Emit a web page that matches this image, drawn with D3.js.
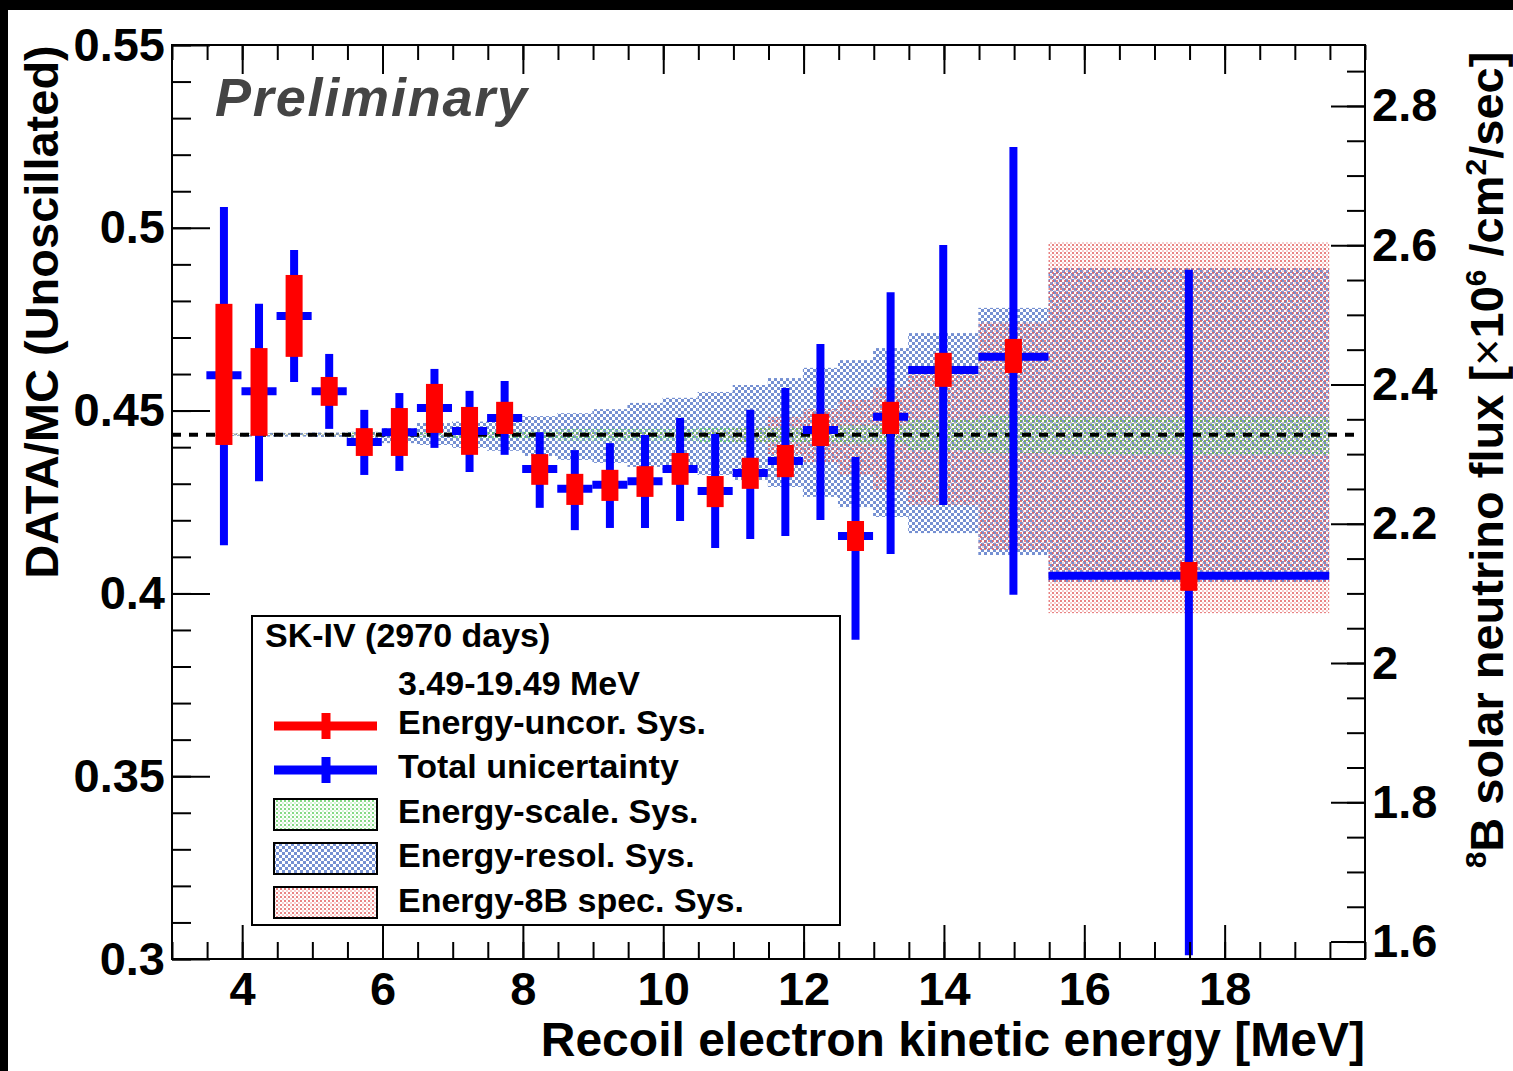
<!DOCTYPE html>
<html>
<head>
<meta charset="utf-8">
<script src="https://cdn.jsdelivr.net/npm/d3@7"></script>
<style>
  html, body { margin: 0; padding: 0; background: #000; }
  svg { display: block; font-family: "Liberation Sans", Arial, sans-serif; font-weight: bold; }
</style>
</head>
<body>
<div id="chart"></div>
<script>
// bins (MeV)
const binEdges = [3.49, 3.99, 4.49, 4.99, 5.49, 5.99, 6.49, 6.99, 7.49, 7.99, 8.49, 8.99,
                  9.49, 9.99, 10.49, 10.99, 11.49, 11.99, 12.49, 12.99, 13.49, 14.49, 15.49, 19.49];

// DATA/MC
const ratio     = [0.4597, 0.4553, 0.4759, 0.4553, 0.4414, 0.4441, 0.4507, 0.4444, 0.4480, 0.4340, 0.4286, 0.4297,
                   0.4307, 0.4340, 0.4280, 0.4329, 0.4362, 0.4447, 0.4157, 0.4483, 0.4611, 0.4647, 0.4048];
// energy-uncorrelated sys. (red)
const uncorLow  = [0.4406, 0.4431, 0.4647, 0.4513, 0.4376, 0.4376, 0.4439, 0.4379, 0.4436, 0.4297, 0.4242, 0.4253,
                   0.4264, 0.4297, 0.4236, 0.4286, 0.4318, 0.4403, 0.4116, 0.4436, 0.4565, 0.4603, 0.4007];
const uncorHigh = [0.4792, 0.4671, 0.4871, 0.4592, 0.4452, 0.4507, 0.4573, 0.4510, 0.4524, 0.4381, 0.4327, 0.4338,
                   0.4348, 0.4384, 0.4321, 0.4371, 0.4406, 0.4491, 0.4198, 0.4524, 0.4658, 0.4696, 0.4086];
// total uncertainty (blue)
const totalLow  = [0.4132, 0.4307, 0.4578, 0.4450, 0.4324, 0.4335, 0.4398, 0.4332, 0.4379, 0.4234, 0.4173, 0.4179,
                   0.4179, 0.4198, 0.4124, 0.4149, 0.4157, 0.4201, 0.3873, 0.4108, 0.4242, 0.3996, 0.3010];
const totalHigh = [0.5057, 0.4792, 0.4939, 0.4655, 0.4502, 0.4548, 0.4614, 0.4554, 0.4581, 0.4441, 0.4392, 0.4411,
                   0.4433, 0.4480, 0.4436, 0.4502, 0.4562, 0.4682, 0.4373, 0.4824, 0.4953, 0.5221, 0.4885];

// systematic bands around the expectation
const scaleLow  = [0.4431, 0.4431, 0.4431, 0.4431, 0.4428, 0.4428, 0.4428, 0.4424, 0.4424, 0.4424, 0.4418, 0.4418,
                   0.4418, 0.4418, 0.4414, 0.4414, 0.4414, 0.4414, 0.4408, 0.4408, 0.4392, 0.4384, 0.4379];
const scaleHigh = [0.4437, 0.4437, 0.4437, 0.4437, 0.4440, 0.4440, 0.4440, 0.4444, 0.4444, 0.4444, 0.4450, 0.4450,
                   0.4450, 0.4450, 0.4454, 0.4454, 0.4454, 0.4454, 0.4460, 0.4460, 0.4474, 0.4488, 0.4483];
const resolLow  = [0.4431, 0.4429, 0.4429, 0.4428, 0.4424, 0.4411, 0.4406, 0.4398, 0.4390, 0.4376, 0.4365, 0.4357,
                   0.4346, 0.4338, 0.4324, 0.4310, 0.4291, 0.4264, 0.4236, 0.4209, 0.4165, 0.4105, 0.4031];
const resolHigh = [0.4437, 0.4439, 0.4439, 0.4440, 0.4442, 0.4452, 0.4466, 0.4470, 0.4480, 0.4485, 0.4493, 0.4504,
                   0.4521, 0.4535, 0.4551, 0.4570, 0.4589, 0.4617, 0.4638, 0.4671, 0.4712, 0.4781, 0.4890];
const specLow   = [0.4432, 0.4432, 0.4432, 0.4432, 0.4432, 0.4432, 0.4432, 0.4432, 0.4432, 0.4432, 0.4430, 0.4430,
                   0.4430, 0.4430, 0.4425, 0.4414, 0.4379, 0.4359, 0.4324, 0.4283, 0.4242, 0.4119, 0.3946];
const specHigh  = [0.4437, 0.4437, 0.4437, 0.4437, 0.4437, 0.4437, 0.4437, 0.4437, 0.4437, 0.4437, 0.4440, 0.4440,
                   0.4440, 0.4440, 0.4445, 0.4452, 0.4483, 0.4504, 0.4529, 0.4565, 0.4611, 0.4742, 0.4961];

const expected = 0.4434;

const xTicks = [4, 6, 8, 10, 12, 14, 16, 18];
const yTicks = [0.3, 0.35, 0.4, 0.45, 0.5, 0.55];
const rightTicks = [1.6, 1.8, 2, 2.2, 2.4, 2.6, 2.8];
const fluxPerRatio = 5.25;

const width = 1513;
const height = 1071;
const marginTop = 45;
const marginRight = 148;
const marginBottom = 112;
const marginLeft = 172;

const x = d3.scaleLinear().domain([3, 20]).range([marginLeft, width - marginRight]);
const y = d3.scaleLinear().domain([0.3, 0.55]).range([height - marginBottom, marginTop]);
const yR = d3.scaleLinear().domain([0.3 * fluxPerRatio, 0.55 * fluxPerRatio]).range([height - marginBottom, marginTop]);

const fmt = d => String(+(+d).toFixed(2));

const svg = d3.select("#chart").append("svg")
  .attr("width", width)
  .attr("height", height);

// black frame of the picture
svg.append("rect").attr("width", width).attr("height", height).attr("fill", "#000");
svg.append("rect").attr("x", 8).attr("y", 10).attr("width", width - 8).attr("height", height - 10).attr("fill", "#fff");

// fill patterns
const defs = svg.append("defs");
const blueP = defs.append("pattern").attr("id", "pBlue").attr("patternUnits", "userSpaceOnUse")
  .attr("width", 6).attr("height", 6);
blueP.append("rect").attr("x", 0).attr("y", 0).attr("width", 3).attr("height", 3).attr("fill", "#7590d2");
blueP.append("rect").attr("x", 3).attr("y", 3).attr("width", 3).attr("height", 3).attr("fill", "#7590d2");

const redP = defs.append("pattern").attr("id", "pRed").attr("patternUnits", "userSpaceOnUse")
  .attr("width", 4).attr("height", 4);
redP.append("circle").attr("cx", 1).attr("cy", 1).attr("r", 1).attr("fill", "#e25a5a");
redP.append("circle").attr("cx", 3).attr("cy", 3).attr("r", 0.8).attr("fill", "#ec8c8c");

const greenP = defs.append("pattern").attr("id", "pGreen").attr("patternUnits", "userSpaceOnUse")
  .attr("width", 4).attr("height", 4);
greenP.append("circle").attr("cx", 1).attr("cy", 1).attr("r", 0.9).attr("fill", "#4cc84c");
greenP.append("circle").attr("cx", 3).attr("cy", 3).attr("r", 0.7).attr("fill", "#8edf8e");

const bins = d3.range(ratio.length).map(i => ({
  lo: binEdges[i], hi: binEdges[i + 1], mid: (binEdges[i] + binEdges[i + 1]) / 2,
  v: ratio[i], uLo: uncorLow[i], uHi: uncorHigh[i], tLo: totalLow[i], tHi: totalHigh[i],
  sLo: scaleLow[i], sHi: scaleHigh[i], rLo: resolLow[i], rHi: resolHigh[i], bLo: specLow[i], bHi: specHigh[i]
}));

// bands
const band = (cls, lo, hi, fill) => {
  svg.append("g").selectAll("rect")
    .data(bins)
    .join("rect")
    .attr("class", cls)
    .attr("x", d => x(d.lo))
    .attr("width", d => x(d.hi) - x(d.lo))
    .attr("y", d => y(d[hi]))
    .attr("height", d => y(d[lo]) - y(d[hi]))
    .attr("fill", fill);
};
band("resol", "rLo", "rHi", "url(#pBlue)");
band("spec", "bLo", "bHi", "url(#pRed)");
band("scale", "sLo", "sHi", "url(#pGreen)");

// expectation
svg.append("line")
  .attr("x1", x(3)).attr("x2", x(19.9))
  .attr("y1", y(expected)).attr("y2", y(expected))
  .attr("stroke", "#000").attr("stroke-width", 4)
  .attr("stroke-dasharray", "9 8");

// total uncertainty
const pts = svg.append("g");
pts.selectAll(".tv").data(bins).join("line")
  .attr("class", "tv")
  .attr("x1", d => x(d.mid)).attr("x2", d => x(d.mid))
  .attr("y1", d => y(d.tLo)).attr("y2", d => y(d.tHi))
  .attr("stroke", "#0000ff").attr("stroke-width", 8);
pts.selectAll(".th").data(bins).join("line")
  .attr("class", "th")
  .attr("x1", d => x(d.lo)).attr("x2", d => x(d.hi))
  .attr("y1", d => y(d.v)).attr("y2", d => y(d.v))
  .attr("stroke", "#0000ff").attr("stroke-width", 8);
// energy-uncorrelated
pts.selectAll(".ur").data(bins).join("rect")
  .attr("class", "ur")
  .attr("x", d => x(d.mid) - 8.5).attr("width", 17)
  .attr("y", d => y(d.uHi)).attr("height", d => y(d.uLo) - y(d.uHi))
  .attr("fill", "#ff0000");

// axes
const plotBottom = height - marginBottom;
const plotRight = width - marginRight;
const xMinor = d3.range(3, 20.001, 0.5);
const yMinor = d3.range(0.3, 0.5501, 0.01);
const rMinor = d3.range(1.6, 2.851, 0.05);

const axisStyle = g => {
  g.select(".domain").remove();
  g.selectAll("line").attr("stroke", "#000").attr("stroke-width", 2);
  g.selectAll("text").attr("fill", "#000").style("font-size", "47px").style("font-weight", "bold")
    .style("font-family", "'Liberation Sans', Arial, sans-serif");
};

svg.append("g").attr("transform", `translate(0,${plotBottom})`)
  .call(d3.axisBottom(x).tickValues(xMinor).tickSize(-17).tickFormat("")).call(axisStyle);
svg.append("g").attr("transform", `translate(0,${plotBottom})`)
  .call(d3.axisBottom(x).tickValues(xTicks).tickSize(-34).tickPadding(13).tickFormat(fmt)).call(axisStyle);

svg.append("g").attr("transform", `translate(0,${marginTop})`)
  .call(d3.axisTop(x).tickValues(xMinor).tickSize(-15).tickFormat("")).call(axisStyle);
svg.append("g").attr("transform", `translate(0,${marginTop})`)
  .call(d3.axisTop(x).tickValues(xTicks).tickSize(-29).tickFormat("")).call(axisStyle);

svg.append("g").attr("transform", `translate(${marginLeft},0)`)
  .call(d3.axisLeft(y).tickValues(yMinor).tickSize(-19).tickFormat("")).call(axisStyle);
svg.append("g").attr("transform", `translate(${marginLeft},0)`)
  .call(d3.axisLeft(y).tickValues(yTicks).tickSize(-38).tickPadding(7).tickFormat(fmt)).call(axisStyle);

svg.append("g").attr("transform", `translate(${plotRight},0)`)
  .call(d3.axisRight(yR).tickValues(rMinor).tickSize(-18).tickFormat("")).call(axisStyle);
svg.append("g").attr("transform", `translate(${plotRight},0)`)
  .call(d3.axisRight(yR).tickValues(rightTicks).tickSize(-34).tickPadding(7).tickFormat(fmt)).call(axisStyle);

// frame
svg.append("rect")
  .attr("x", marginLeft).attr("y", marginTop)
  .attr("width", plotRight - marginLeft).attr("height", plotBottom - marginTop)
  .attr("fill", "none").attr("stroke", "#000").attr("stroke-width", 2);

// titles
svg.append("text")
  .attr("x", plotRight).attr("y", 1056)
  .attr("text-anchor", "end")
  .style("font-size", "48px")
  .text("Recoil electron kinetic energy [MeV]");

svg.append("text")
  .attr("transform", "translate(58,312) rotate(-90)")
  .attr("text-anchor", "middle")
  .style("font-size", "47px")
  .text("DATA/MC (Unoscillated)");

const rt = svg.append("text")
  .attr("transform", "translate(1503,460) rotate(-90)")
  .attr("text-anchor", "middle")
  .style("font-size", "47px");
rt.append("tspan").style("font-size", "30px").attr("dy", -17).text("8");
rt.append("tspan").attr("dy", 17).text("B solar neutrino flux [");
rt.append("tspan").style("font-weight", "normal").text("\u00d7");
rt.append("tspan").text("10");
rt.append("tspan").style("font-size", "30px").attr("dy", -17).text("6");
rt.append("tspan").attr("dy", 17).text(" /cm");
rt.append("tspan").style("font-size", "30px").attr("dy", -17).text("2");
rt.append("tspan").attr("dy", 17).text("/sec]");

svg.append("text")
  .attr("x", 215).attr("y", 116)
  .style("font-size", "54px")
  .style("font-style", "italic")
  .style("letter-spacing", "1.8px")
  .attr("fill", "#444")
  .text("Preliminary");

// legend
const legend = svg.append("g").attr("id", "legend");
legend.append("rect")
  .attr("x", 252).attr("y", 616).attr("width", 588).attr("height", 309)
  .attr("fill", "#fff").attr("stroke", "#000").attr("stroke-width", 2);

const legendText = [
  {t: "SK-IV (2970 days)", x: 265, y: 647},
  {t: "3.49-19.49 MeV", x: 398, y: 695},
  {t: "Energy-uncor. Sys.", x: 398, y: 734},
  {t: "Total unicertainty", x: 398, y: 778},
  {t: "Energy-scale. Sys.", x: 398, y: 823},
  {t: "Energy-resol. Sys.", x: 398, y: 867},
  {t: "Energy-8B spec. Sys.", x: 398, y: 912}
];
legend.selectAll(".lt").data(legendText).join("text")
  .attr("class", "lt")
  .attr("x", d => d.x).attr("y", d => d.y)
  .style("font-size", "34px")
  .text(d => d.t);

const legendMarks = [
  {c: "#ff0000", y: 726},
  {c: "#0000ff", y: 770}
];
legendMarks.forEach(m => {
  legend.append("line").attr("x1", 274).attr("x2", 377).attr("y1", m.y).attr("y2", m.y)
    .attr("stroke", m.c).attr("stroke-width", 9);
  legend.append("line").attr("x1", 326).attr("x2", 326).attr("y1", m.y - 13).attr("y2", m.y + 13)
    .attr("stroke", m.c).attr("stroke-width", 9);
});
const legendBoxes = [
  {f: "url(#pGreen)", y: 799},
  {f: "url(#pBlue)", y: 843},
  {f: "url(#pRed)", y: 887}
];
legend.selectAll(".lb").data(legendBoxes).join("rect")
  .attr("class", "lb")
  .attr("x", 274).attr("y", d => d.y).attr("width", 103).attr("height", 31)
  .attr("fill", d => d.f).attr("stroke", "#000").attr("stroke-width", 2);
</script>
</body>
</html>
